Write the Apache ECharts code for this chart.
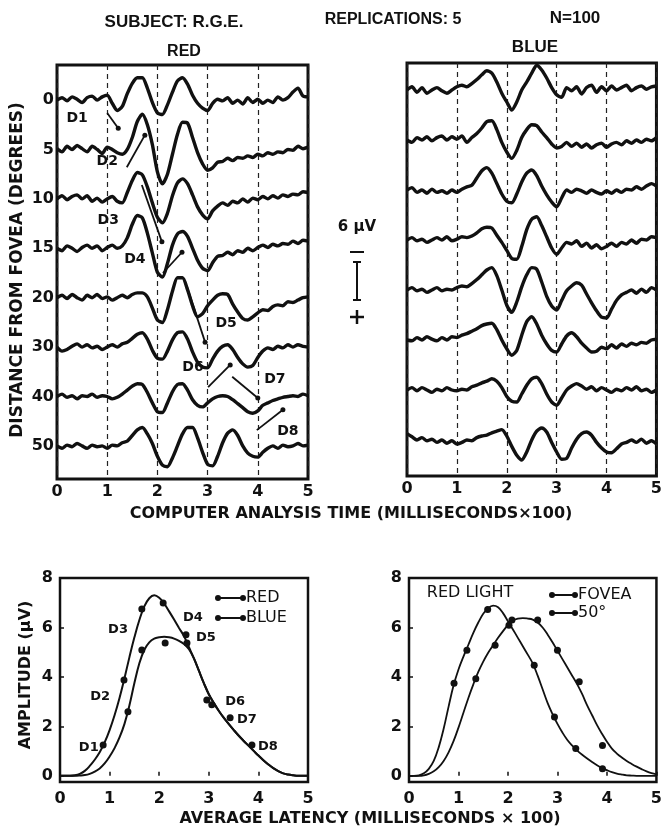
<!DOCTYPE html>
<html><head><meta charset="utf-8">
<script src="https://cdn.jsdelivr.net/npm/echarts@6/dist/echarts.min.js"></script>
<style>html,body{margin:0;padding:0;background:#fff}#c{width:665px;height:830px}</style>
</head><body><div id="c"></div>
<script>
// ---------- DATA ----------
const TIME = [0,0.1,0.2,0.3,0.4,0.5,0.6,0.7,0.8,0.9,1,1.1,1.2,1.3,1.4,1.5,1.6,1.7,1.8,1.9,2,2.1,2.2,2.3,2.4,2.5,2.6,2.7,2.8,2.9,3,3.1,3.2,3.3,3.4,3.5,3.6,3.7,3.8,3.9,4,4.1,4.2,4.3,4.4,4.5,4.6,4.7,4.8,4.9,5];
const DEGREES = ['0','5','10','15','20','30','40','50'];
const X_TICKS = ['0','1','2','3','4','5'];
const AMP_TICKS = [0,2,4,6,8];

// waveform amplitudes (µV, upward deflection positive), RED stimulus
const RED_0 = [0,0.3,-0.1,0.4,0.1,-0.3,0.3,0.5,0,0.4,0.6,-0.4,-1.3,-0.8,0.8,2.1,2.8,2.8,1.5,-0.3,-1.6,-1.8,-0.6,1.0,2.4,2.8,2.0,0.6,-0.4,-1.0,-1.3,-0.4,0.1,-0.1,0.3,-0.4,0,-0.5,0.3,-0.3,0.1,-0.4,0,-0.3,0.4,0,0.3,1.0,1.5,0.5,0.4];
const RED_1 = [0.1,-0.3,0.4,0,0.5,0.1,-0.3,0.4,0,-0.5,0.3,0,-0.4,-0.6,0,1.5,3.5,4.4,3.1,0.6,-2.8,-4.3,-3.1,-0.6,1.9,3.4,3.3,1.5,-0.4,-1.8,-2.6,-2.3,-1.6,-1.5,-1.1,-1.4,-1.0,-1.1,-0.8,-1.0,-0.6,-0.8,-0.4,-0.6,-0.3,-0.4,0,-0.1,0.4,0.1,0.3];
const RED_2 = [0,0.4,-0.1,0.3,0.5,0,0.4,-0.3,0.1,-0.4,0,0.3,-0.3,-0.5,0.8,2.3,3.3,3.0,1.5,-0.5,-2.3,-3.0,-1.8,0.4,2.0,2.5,1.9,0.5,-1.0,-2.0,-2.5,-1.5,-0.9,-0.5,-0.8,-0.3,-0.5,0,-0.4,0.1,-0.1,0.3,0,0.4,0.1,0.5,0.3,0.6,0.5,0.9,0.8];
const RED_3 = [0,-0.3,0.3,0,-0.4,0.1,0.4,0,0.3,-0.3,0.1,0.4,0,0.3,1.3,3.0,4.1,3.8,1.9,-0.6,-3.0,-3.6,-1.9,0.4,1.8,2.1,1.5,0,-1.5,-2.5,-2.8,-1.8,-1.0,-0.9,-0.5,-0.8,-0.3,-0.5,0,-0.3,0.1,0.4,0.1,0.5,0.3,0.6,0.5,0.9,0.6,1.0,0.9];
const RED_4 = [0,0.3,-0.1,0.4,0,-0.3,0.3,0,0.4,-0.1,0.1,-0.3,0,0.3,0,0.4,0.6,0.6,0.1,-1.3,-2.8,-3.1,-1.5,0.8,2.5,2.5,1.0,-1.0,-2.4,-2.0,-1.0,-0.3,0.3,0.5,0.4,-0.8,-1.8,-2.6,-2.8,-2.4,-1.9,-1.5,-1.6,-1.1,-0.9,-1.0,-0.5,-0.6,-0.3,0,0.1];
const RED_5 = [0,-0.5,-0.3,0.1,0.4,0,0.3,-0.1,0.1,-0.3,0,0.3,0,0.4,0.6,1.1,1.6,1.8,1.0,-0.4,-1.4,-1.5,-0.5,0.9,1.8,1.9,1.0,-0.6,-1.9,-2.5,-2.6,-1.5,-0.5,0.1,0.3,-0.3,-1.3,-2.1,-2.5,-2.3,-1.3,-0.5,-0.1,-0.3,0.1,-0.1,0.3,0,0.3,0.1,0];
const RED_6 = [0,0.3,-0.1,0.1,-0.3,0.1,0,0.3,-0.1,0.1,0,-0.3,-0.1,0.3,0.8,1.3,1.6,1.5,0.5,-0.8,-1.9,-2.0,-0.8,0.6,1.5,1.6,0.8,-0.4,-1.1,-1.3,-0.8,-0.3,0,0.1,0,-0.4,-0.9,-1.4,-1.9,-2.1,-1.8,-1.1,-0.8,-0.5,-0.3,-0.1,0,0.1,0,0.3,0.1];
const RED_7 = [0,-0.3,0.1,-0.1,0.3,0,-0.3,0.1,-0.1,0,-0.3,0.1,0,0.4,0.6,1.3,2.0,2.3,1.5,0.3,-1.3,-2.4,-2.6,-1.5,0,1.5,2.3,2.3,1.0,-0.8,-2.3,-2.5,-1.3,0.4,1.6,2.0,1.3,0,-0.9,-1.3,-1.4,-0.8,-0.3,0,-0.3,0.1,-0.1,0,0.3,0,0.1];
// BLUE stimulus
const BLUE_0 = [0,0.4,-0.3,0.3,-0.4,0,0.3,-0.1,-0.4,0,0.4,0.6,0.4,0.8,1.3,1.9,2.4,2.1,1.0,-0.4,-1.5,-2.5,-1.5,0,1.0,2.1,3.1,2.5,1.5,0.3,-0.6,-0.9,0.3,-0.1,0.4,-0.5,0.3,0.6,-0.3,0.4,-0.1,0.5,0,0.3,0.6,-0.1,0.3,0.5,0.1,0.4,0.5];
const BLUE_1 = [0,-0.3,0.3,0,0.4,-0.1,0.3,0.5,0,0.4,0.1,0.5,-0.3,0.3,0.8,1.5,2.3,2.4,1.3,-0.3,-1.5,-2.3,-1.3,0.3,1.3,1.9,1.8,1.0,0.3,-0.5,-1.0,-0.8,-0.3,-0.8,-0.4,-0.9,-0.5,-1.0,-0.6,-0.4,-0.9,-0.5,-0.3,-0.6,-0.1,-0.4,0,-0.3,0.1,-0.1,0.3];
const BLUE_2 = [0,0.3,-0.3,0,-0.4,0.1,-0.3,-0.1,-0.4,0,-0.3,0.1,0.4,0.6,1.5,2.4,2.8,2.1,0.8,-0.5,-1.4,-1.6,-0.5,1.0,2.1,2.5,1.8,0.5,-0.6,-1.5,-2.1,-1.0,0,-0.3,0.1,-0.1,-0.4,0,-0.3,-0.5,-0.1,-0.4,0,-0.3,0.1,0,0.4,0.1,0.5,0.8,0.5];
const BLUE_3 = [0,0.3,-0.1,0.1,-0.3,0,0.3,0,0.4,-0.1,0.1,0.4,0.3,0.5,0.9,1.4,1.6,1.5,0.6,-0.3,-1.3,-2.3,-2.4,-0.8,1.3,2.6,2.9,1.8,0.4,-1.0,-1.8,-1.0,-0.3,-0.5,-0.1,-0.8,-0.4,-1.0,-0.6,-1.1,-0.8,-0.4,-0.8,-0.3,-0.5,0,-0.4,0.1,0,0.4,0.3];
const BLUE_4 = [0,0.3,-0.1,0.1,-0.3,0,0.3,-0.1,0.1,0,0.3,0.5,0.4,0.8,1.3,1.9,2.5,2.8,1.8,0,-1.9,-2.8,-1.5,0.4,1.9,2.8,2.6,1.0,-0.8,-2.0,-2.5,-1.3,-0.1,0.5,0.9,0.6,-0.5,-1.6,-2.6,-3.4,-3.5,-2.4,-1.3,-0.6,-0.3,0,-0.4,0.1,-0.3,0.3,0];
const BLUE_5 = [0,-0.1,0.3,0,0.4,0.1,-0.1,0.3,0,0.4,0.3,0.6,0.8,1.1,1.4,1.8,2.0,2.1,1.3,0,-1.1,-1.9,-1.3,0.6,2.3,2.9,2.0,0.6,-0.5,-1.3,-1.5,-0.5,0.5,0.9,0.4,-0.4,-1.0,-1.5,-1.4,-0.9,-1.1,-0.6,-1.0,-0.5,-0.8,-0.4,-0.6,-0.3,-0.4,0,0.1];
const BLUE_6 = [0,0.3,-0.1,0.3,0,-0.3,0.1,-0.1,0.3,0,-0.1,0.1,0,0.4,0.6,0.9,1.1,1.4,1.1,0.3,-0.8,-1.4,-1.5,-0.5,0.6,1.4,1.6,0.8,-0.5,-1.5,-1.9,-1.0,0,0.5,0.8,0.5,0.1,0.4,-0.1,0.3,0,-0.3,0.1,-0.1,0.3,0,0.4,-0.1,0.1,-0.3,0];
const BLUE_7 = [0.8,0.4,0,0.3,-0.1,0.1,-0.3,0,-0.4,-0.1,-0.5,-0.3,0,-0.1,0.3,0.5,0.6,0.9,1.1,1.3,0.5,-0.8,-1.9,-2.5,-1.5,0,1.1,1.5,1.0,-0.3,-1.5,-2.4,-2.3,-1.0,0.1,0.8,1.0,0.6,-0.3,-1.0,-1.5,-1.6,-1.1,-0.5,-0.3,0,-0.3,0.1,-0.4,-0.1,-0.5];

// D annotations in the RED panel: [time, trace position]
const D_TEXT_TOP = [['D1',0.40,0.36],['D2',1.00,1.25],['D3',1.02,2.43],['D4',1.55,3.22],['D5',3.37,4.51],['D6',2.71,5.42],['D7',4.34,5.66],['D8',4.60,6.70]];
const D_ARROWS_TOP = [[[1.00,0.26],[1.22,0.57]],[[1.39,1.36],[1.75,0.71]],[[1.69,1.72],[2.09,2.87]],[[2.11,3.50],[2.49,3.08]],[[2.59,3.78],[2.95,4.90]],[[3.01,5.81],[3.45,5.36]],[[3.49,5.60],[4.00,6.03]],[[3.98,6.68],[4.50,6.27]]];

// lower-left: amplitude vs latency
const RED_CURVE  = [0,0,0,0.02,0.08,0.2,0.4,0.65,0.95,1.35,1.85,2.45,3.15,3.95,4.8,5.6,6.3,6.85,7.18,7.3,7.2,6.97,6.65,6.32,5.98,5.65,5.2,4.75,4.25,3.75,3.3,2.95,2.63,2.35,2.1,1.86,1.63,1.42,1.22,1.02,0.82,0.63,0.46,0.31,0.19,0.1,0.05,0.02,0,0,0];
const BLUE_CURVE = [0,0,0,0,0.01,0.03,0.08,0.17,0.3,0.5,0.78,1.12,1.55,2.1,2.85,3.75,4.55,5.1,5.4,5.55,5.6,5.62,5.6,5.55,5.46,5.33,5.12,4.75,4.25,3.75,3.3,2.95,2.63,2.35,2.1,1.86,1.63,1.42,1.22,1.02,0.82,0.63,0.46,0.31,0.19,0.1,0.05,0.02,0,0,0];
const RED_PTS  = [[0.87,1.25],[1.29,3.88],[1.65,6.75],[2.08,6.99],[2.54,5.70],[2.96,3.07],[3.43,2.35],[3.87,1.25]];
const BLUE_PTS = [[1.37,2.59],[1.65,5.09],[2.12,5.37],[2.56,5.37],[3.06,2.87]];
const D_TEXT_BOTTOM = [['D1',0.58,1.13],['D2',0.81,3.19],['D3',1.17,5.90],['D4',2.68,6.39],['D5',2.94,5.58],['D6',3.53,2.99],['D7',3.77,2.26],['D8',4.19,1.17]];

// lower-right: red light, fovea vs 50°
const FOVEA_CURVE = [0,0,0.02,0.1,0.28,0.6,1.15,1.9,2.8,3.65,4.3,4.82,5.3,5.78,6.2,6.55,6.78,6.88,6.82,6.58,6.25,5.92,5.58,5.24,4.9,4.55,4.05,3.5,2.95,2.5,2.1,1.75,1.45,1.22,1.02,0.85,0.7,0.56,0.43,0.32,0.23,0.15,0.09,0.05,0.02,0.01,0,0,0,0,0];
const DEG50_CURVE = [0,0,0,0.02,0.08,0.18,0.35,0.6,0.95,1.4,1.95,2.55,3.15,3.7,4.2,4.62,4.98,5.28,5.58,5.85,6.1,6.28,6.36,6.38,6.36,6.32,6.2,6.0,5.72,5.4,5.06,4.72,4.38,4.04,3.7,3.3,2.85,2.45,2.05,1.7,1.38,1.1,0.9,0.74,0.6,0.48,0.37,0.27,0.18,0.11,0.06];
const FOVEA_PTS = [[0.91,3.74],[1.17,5.08],[1.59,6.73],[2.02,6.09],[2.53,4.47],[2.94,2.38],[3.37,1.10],[3.91,0.29]];
const DEG50_PTS = [[1.35,3.93],[1.74,5.28],[2.08,6.30],[2.60,6.30],[3.00,5.08],[3.44,3.80],[3.91,1.23]];

// ---------- CHART ----------
const RED_TRACES = [RED_0,RED_1,RED_2,RED_3,RED_4,RED_5,RED_6,RED_7];
const BLUE_TRACES = [BLUE_0,BLUE_1,BLUE_2,BLUE_3,BLUE_4,BLUE_5,BLUE_6,BLUE_7];
const INK = '#111';
const F = 'DejaVu Sans';
const chart = echarts.init(document.getElementById('c'), null, {renderer:'canvas'});

function trace(arr, i, uvPerStep, gi){
  return {type:'line', xAxisIndex:gi, yAxisIndex:gi, data: TIME.map((t,k)=>[t, i - arr[k]/uvPerStep]),
    showSymbol:false, symbol:'none', smooth:0.25, lineStyle:{color:INK, width:3.4}, silent:true, z:3};
}
const series = [];
RED_TRACES.forEach((a,i)=>series.push(trace(a,i,6.18,0)));
BLUE_TRACES.forEach((a,i)=>series.push(trace(a,i,6.25,1)));
D_ARROWS_TOP.forEach(seg=>series.push({type:'line', xAxisIndex:0, yAxisIndex:0, silent:true, z:4,
  data:[{value:seg[0], symbolSize:0},{value:seg[1], symbolSize:5}], symbol:'circle', showSymbol:true,
  itemStyle:{color:INK}, lineStyle:{color:INK, width:1.8}}));
const CLEAR = 'rgba(0,0,0,0)';
series.push({type:'scatter', xAxisIndex:0, yAxisIndex:0, silent:true, z:5, symbolSize:2, itemStyle:{color:CLEAR, opacity:1},
  data: D_TEXT_TOP.map(d=>({name:d[0], value:[d[1],d[2]]})),
  label:{show:true, position:'inside', formatter:'{b}', fontFamily:F, fontWeight:'bold', fontSize:14, color:INK, opacity:1}});

function curve(arr, gi, w){
  return {type:'line', xAxisIndex:gi, yAxisIndex:gi, data: TIME.map((t,k)=>[t, arr[k]]), showSymbol:false,
    symbol:'none', smooth:0.4, lineStyle:{color:INK, width:w}, silent:true};
}
function pts(arr, gi){
  return {type:'scatter', xAxisIndex:gi, yAxisIndex:gi, data:arr, symbolSize:7, itemStyle:{color:INK, opacity:1}, silent:true, z:4};
}
series.push(curve(RED_CURVE,2,2), curve(BLUE_CURVE,2,2), pts(RED_PTS,2), pts(BLUE_PTS,2));
series.push({type:'scatter', xAxisIndex:2, yAxisIndex:2, silent:true, z:5, symbolSize:2, itemStyle:{color:CLEAR, opacity:1},
  data: D_TEXT_BOTTOM.map(d=>({name:d[0], value:[d[1],d[2]]})),
  label:{show:true, position:'inside', formatter:'{b}', fontFamily:F, fontWeight:'bold', fontSize:13, color:INK, opacity:1}});
series.push(curve(FOVEA_CURVE,3,1.8), curve(DEG50_CURVE,3,1.8), pts(FOVEA_PTS,3), pts(DEG50_PTS,3));

const grids = [
  {left:57, top:65, width:251, height:414},
  {left:407, top:63, width:252, height:413},
  {left:60, top:578, width:248, height:204},
  {left:409, top:578, width:248, height:204}
].map((g,i)=>Object.assign(g,{show:true, borderColor:INK, borderWidth: i<2?3:2.5, backgroundColor:'transparent', containLabel:false}));

const tickLabel = {fontFamily:F, fontWeight:'bold', fontSize:16, color:INK};
function xAx(gi, top){
  return {type:'value', gridIndex:gi, min:0, max:5, interval:1, axisLine:{show:false},
    axisTick: top?{show:false}:{show:true, inside:true, length:4, lineStyle:{color:INK, width:1.5}},
    axisLabel: Object.assign({margin: top?5:9, formatter:v=>X_TICKS[v]}, tickLabel),
    splitLine: top?{show:true, lineStyle:{color:'#222', width:1.2, type:[5,4]}}:{show:false}};
}
const yAxes = [
  {type:'value', gridIndex:0, min:-0.71, max:7.67, inverse:true, axisLine:{show:false}, axisTick:{show:false}, splitLine:{show:false},
   axisLabel:Object.assign({customValues:[0,1,2,3,4,5,6,7], formatter:v=>DEGREES[Math.round(v)], margin:3}, tickLabel)},
  {type:'value', gridIndex:1, min:-0.54, max:7.72, inverse:true, axisLine:{show:false}, axisTick:{show:false}, splitLine:{show:false}, axisLabel:{show:false}},
  {type:'value', gridIndex:2, min:-0.25, max:8, axisLine:{show:false}, splitLine:{show:false},
   axisTick:{show:true, inside:true, length:4, customValues:AMP_TICKS, lineStyle:{color:INK, width:1.5}},
   axisLabel:Object.assign({customValues:AMP_TICKS, margin:7}, tickLabel)},
  {type:'value', gridIndex:3, min:-0.25, max:8, axisLine:{show:false}, splitLine:{show:false},
   axisTick:{show:true, inside:true, length:4, customValues:AMP_TICKS, lineStyle:{color:INK, width:1.5}},
   axisLabel:Object.assign({customValues:AMP_TICKS, margin:7}, tickLabel)}
];

function txt(x,y,s,font,opts){
  return Object.assign({type:'text', x:x, y:y, style:{text:s, font:font, fill:INK, textAlign:'center', textVerticalAlign:'middle'}}, opts||{});
}
function legendItem(x1,x2,y,label){
  return [
    {type:'line', shape:{x1:x1,y1:y,x2:x2,y2:y}, style:{stroke:INK, lineWidth:2}},
    {type:'circle', shape:{cx:x1,cy:y,r:3}, style:{fill:INK}},
    {type:'circle', shape:{cx:x2,cy:y,r:3}, style:{fill:INK}},
    {type:'text', x:x2+3, y:y, style:{text:label, font:'16px "DejaVu Sans"', fill:INK, textAlign:'left', textVerticalAlign:'middle'}}
  ];
}
const graphic = [
  txt(174,22,'SUBJECT: R.G.E.','bold 17px "Liberation Sans"'),
  txt(393,20,'REPLICATIONS: 5','bold 16px "Liberation Sans"'),
  txt(575,18,'N=100','bold 17px "Liberation Sans"'),
  txt(184,52,'RED','bold 16px "Liberation Sans"'),
  txt(535,47,'BLUE','bold 17px "Liberation Sans"'),
  txt(351,514,'COMPUTER ANALYSIS TIME (MILLISECONDS\u00d7100)','bold 16px "DejaVu Sans"'),
  txt(370,819,'AVERAGE LATENCY (MILLISECONDS \u00d7 100)','bold 16px "DejaVu Sans"'),
  txt(18,270,'DISTANCE FROM FOVEA (DEGREES)','bold 17px "DejaVu Sans"',{rotation:Math.PI/2}),
  txt(26,675,'AMPLITUDE (\u00b5V)','bold 16px "DejaVu Sans"',{rotation:Math.PI/2}),
  // 6 µV calibration bar
  txt(357,227,'6 \u00b5V','bold 15px "DejaVu Sans"'),
  {type:'line', shape:{x1:350,y1:252,x2:364,y2:252}, style:{stroke:INK, lineWidth:2}},
  {type:'line', shape:{x1:357,y1:262,x2:357,y2:300}, style:{stroke:INK, lineWidth:2}},
  {type:'line', shape:{x1:353,y1:262,x2:361,y2:262}, style:{stroke:INK, lineWidth:2}},
  {type:'line', shape:{x1:353,y1:300,x2:361,y2:300}, style:{stroke:INK, lineWidth:2}},
  {type:'line', shape:{x1:350,y1:317,x2:364,y2:317}, style:{stroke:INK, lineWidth:2.5}},
  {type:'line', shape:{x1:357,y1:310,x2:357,y2:324}, style:{stroke:INK, lineWidth:2.5}},
  txt(470,593,'RED LIGHT','16px "DejaVu Sans"')
].concat(legendItem(218,243,598,'RED'), legendItem(218,243,618,'BLUE'), legendItem(552,575,595,'FOVEA'), legendItem(552,575,613,'50\u00b0'));

chart.setOption({
  backgroundColor:'#fff', animation:false,
  grid: grids,
  xAxis: [xAx(0,true), xAx(1,true), xAx(2,false), xAx(3,false)],
  yAxis: yAxes,
  series: series,
  graphic: graphic
});
</script>
</body></html>
